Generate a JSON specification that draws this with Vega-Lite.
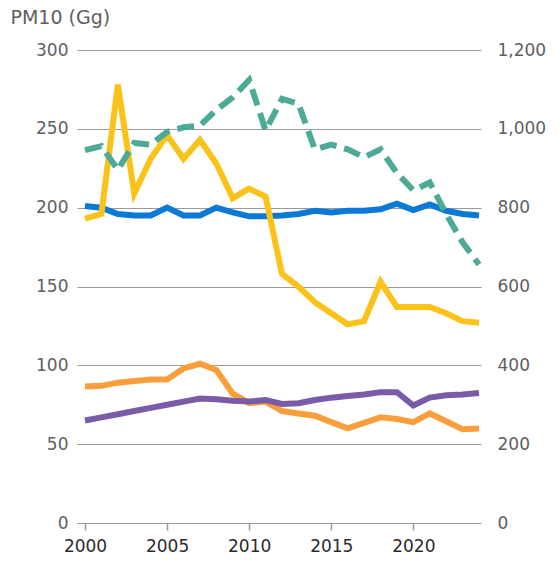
{
  "$schema": "https://vega.github.io/schema/vega-lite/v6.json",
  "autosize": "none",
  "width": 404,
  "height": 473,
  "padding": {"left": 77, "top": 50, "right": 76, "bottom": 43},
  "background": "white",
  "config": {
    "view": {"stroke": null},
    "font": "DejaVu Sans",
    "axis": {"labelFont": "DejaVu Sans", "titleFont": "DejaVu Sans"}
  },
  "datasets": {
    "left": [
      {"year": 2000, "series": "Orange", "value": 86.5}, {"year": 2001, "series": "Orange", "value": 87}, {"year": 2002, "series": "Orange", "value": 89}, {"year": 2003, "series": "Orange", "value": 90}, {"year": 2004, "series": "Orange", "value": 91}, {"year": 2005, "series": "Orange", "value": 91}, {"year": 2006, "series": "Orange", "value": 98}, {"year": 2007, "series": "Orange", "value": 101}, {"year": 2008, "series": "Orange", "value": 97}, {"year": 2009, "series": "Orange", "value": 82}, {"year": 2010, "series": "Orange", "value": 76}, {"year": 2011, "series": "Orange", "value": 77}, {"year": 2012, "series": "Orange", "value": 71}, {"year": 2013, "series": "Orange", "value": 69.5}, {"year": 2014, "series": "Orange", "value": 68}, {"year": 2015, "series": "Orange", "value": 64}, {"year": 2016, "series": "Orange", "value": 60}, {"year": 2017, "series": "Orange", "value": 63.5}, {"year": 2018, "series": "Orange", "value": 67}, {"year": 2019, "series": "Orange", "value": 66}, {"year": 2020, "series": "Orange", "value": 64}, {"year": 2021, "series": "Orange", "value": 69.5}, {"year": 2022, "series": "Orange", "value": 64.5}, {"year": 2023, "series": "Orange", "value": 59.5}, {"year": 2024, "series": "Orange", "value": 60},
      {"year": 2000, "series": "Purple", "value": 65}, {"year": 2001, "series": "Purple", "value": 67}, {"year": 2002, "series": "Purple", "value": 69}, {"year": 2003, "series": "Purple", "value": 71}, {"year": 2004, "series": "Purple", "value": 73}, {"year": 2005, "series": "Purple", "value": 75}, {"year": 2006, "series": "Purple", "value": 77}, {"year": 2007, "series": "Purple", "value": 79}, {"year": 2008, "series": "Purple", "value": 78.5}, {"year": 2009, "series": "Purple", "value": 77.5}, {"year": 2010, "series": "Purple", "value": 77}, {"year": 2011, "series": "Purple", "value": 78}, {"year": 2012, "series": "Purple", "value": 75.5}, {"year": 2013, "series": "Purple", "value": 76}, {"year": 2014, "series": "Purple", "value": 78}, {"year": 2015, "series": "Purple", "value": 79.5}, {"year": 2016, "series": "Purple", "value": 80.5}, {"year": 2017, "series": "Purple", "value": 81.5}, {"year": 2018, "series": "Purple", "value": 83}, {"year": 2019, "series": "Purple", "value": 83}, {"year": 2020, "series": "Purple", "value": 74.5}, {"year": 2021, "series": "Purple", "value": 79.5}, {"year": 2022, "series": "Purple", "value": 81}, {"year": 2023, "series": "Purple", "value": 81.5}, {"year": 2024, "series": "Purple", "value": 82.5},
      {"year": 2000, "series": "Blue", "value": 201}, {"year": 2001, "series": "Blue", "value": 200}, {"year": 2002, "series": "Blue", "value": 196}, {"year": 2003, "series": "Blue", "value": 195}, {"year": 2004, "series": "Blue", "value": 195}, {"year": 2005, "series": "Blue", "value": 200}, {"year": 2006, "series": "Blue", "value": 195}, {"year": 2007, "series": "Blue", "value": 195}, {"year": 2008, "series": "Blue", "value": 200}, {"year": 2009, "series": "Blue", "value": 197}, {"year": 2010, "series": "Blue", "value": 194.5}, {"year": 2011, "series": "Blue", "value": 194.5}, {"year": 2012, "series": "Blue", "value": 195}, {"year": 2013, "series": "Blue", "value": 196}, {"year": 2014, "series": "Blue", "value": 198}, {"year": 2015, "series": "Blue", "value": 197}, {"year": 2016, "series": "Blue", "value": 198}, {"year": 2017, "series": "Blue", "value": 198}, {"year": 2018, "series": "Blue", "value": 199}, {"year": 2019, "series": "Blue", "value": 202.5}, {"year": 2020, "series": "Blue", "value": 198.5}, {"year": 2021, "series": "Blue", "value": 202}, {"year": 2022, "series": "Blue", "value": 198}, {"year": 2023, "series": "Blue", "value": 196}, {"year": 2024, "series": "Blue", "value": 195},
      {"year": 2000, "series": "Yellow", "value": 193}, {"year": 2001, "series": "Yellow", "value": 196}, {"year": 2002, "series": "Yellow", "value": 278}, {"year": 2003, "series": "Yellow", "value": 209}, {"year": 2004, "series": "Yellow", "value": 231}, {"year": 2005, "series": "Yellow", "value": 246}, {"year": 2006, "series": "Yellow", "value": 231}, {"year": 2007, "series": "Yellow", "value": 243}, {"year": 2008, "series": "Yellow", "value": 228}, {"year": 2009, "series": "Yellow", "value": 206}, {"year": 2010, "series": "Yellow", "value": 212}, {"year": 2011, "series": "Yellow", "value": 207}, {"year": 2012, "series": "Yellow", "value": 158}, {"year": 2013, "series": "Yellow", "value": 150}, {"year": 2014, "series": "Yellow", "value": 140}, {"year": 2015, "series": "Yellow", "value": 133}, {"year": 2016, "series": "Yellow", "value": 126}, {"year": 2017, "series": "Yellow", "value": 128}, {"year": 2018, "series": "Yellow", "value": 153}, {"year": 2019, "series": "Yellow", "value": 137}, {"year": 2020, "series": "Yellow", "value": 137}, {"year": 2021, "series": "Yellow", "value": 137}, {"year": 2022, "series": "Yellow", "value": 133}, {"year": 2023, "series": "Yellow", "value": 128}, {"year": 2024, "series": "Yellow", "value": 127}
    ],
    "right": [
      {"year": 2000, "value": 946}, {"year": 2001, "value": 956}, {"year": 2002, "value": 896}, {"year": 2003, "value": 964}, {"year": 2004, "value": 960}, {"year": 2005, "value": 992}, {"year": 2006, "value": 1004}, {"year": 2007, "value": 1008}, {"year": 2008, "value": 1048}, {"year": 2009, "value": 1080}, {"year": 2010, "value": 1124}, {"year": 2011, "value": 996}, {"year": 2012, "value": 1076}, {"year": 2013, "value": 1064}, {"year": 2014, "value": 948}, {"year": 2015, "value": 960}, {"year": 2016, "value": 948}, {"year": 2017, "value": 928}, {"year": 2018, "value": 948}, {"year": 2019, "value": 888}, {"year": 2020, "value": 844}, {"year": 2021, "value": 864}, {"year": 2022, "value": 784}, {"year": 2023, "value": 712}, {"year": 2024, "value": 656}
    ]
  },
  "encoding": {
    "x": {
      "field": "year", "type": "quantitative",
      "scale": {"domain": [1999.512, 2024.122], "nice": false, "zero": false},
      "axis": {
        "title": null, "values": [2000, 2005, 2010, 2015, 2020], "format": "d",
        "grid": false, "domain": false, "ticks": true, "tickSize": 7, "tickColor": "#999999", "tickWidth": 1.5,
        "labelFontSize": 17, "labelColor": "#2b2b2b", "labelPadding": 8, "labelFlush": false
      }
    }
  },
  "layer": [
    {
      "data": {"name": "left"},
      "mark": {"type": "line", "strokeWidth": 6, "strokeCap": "butt", "strokeJoin": "miter"},
      "encoding": {
        "y": {
          "field": "value", "type": "quantitative",
          "scale": {"domain": [0, 300], "nice": false},
          "axis": {
            "orient": "left", "values": [0, 50, 100, 150, 200, 250, 300],
            "grid": true, "gridColor": "#9a9a9a", "gridWidth": 1.2,
            "domain": false, "ticks": false,
            "labelFontSize": 17, "labelColor": "#606060", "labelPadding": 9,
            "title": "PM10 (Gg)", "titleAngle": 0, "titleAlign": "left", "titleBaseline": "alphabetic",
            "titleX": -67, "titleY": -27, "titleFontSize": 19, "titleFontWeight": "normal", "titleColor": "#606060"
          }
        },
        "color": {
          "field": "series", "type": "nominal",
          "scale": {"domain": ["Orange", "Purple", "Blue", "Yellow"], "range": ["#f99e3c", "#7a5ba7", "#0c79d6", "#fbc219"]},
          "legend": null
        },
        "order": {"field": "year"},
        "detail": {"field": "series"}
      }
    },
    {
      "data": {"name": "right"},
      "mark": {"type": "line", "strokeWidth": 6, "strokeCap": "butt", "strokeDash": [17, 8], "color": "#4daa97"},
      "encoding": {
        "y": {
          "field": "value", "type": "quantitative",
          "scale": {"domain": [0, 1200], "nice": false},
          "axis": {
            "orient": "right", "values": [0, 200, 400, 600, 800, 1000, 1200], "format": ",d",
            "grid": false, "domain": false, "ticks": false,
            "labelFontSize": 17, "labelColor": "#606060", "labelPadding": 16, "title": null
          }
        }
      }
    }
  ],
  "resolve": {"scale": {"y": "independent"}}
}
